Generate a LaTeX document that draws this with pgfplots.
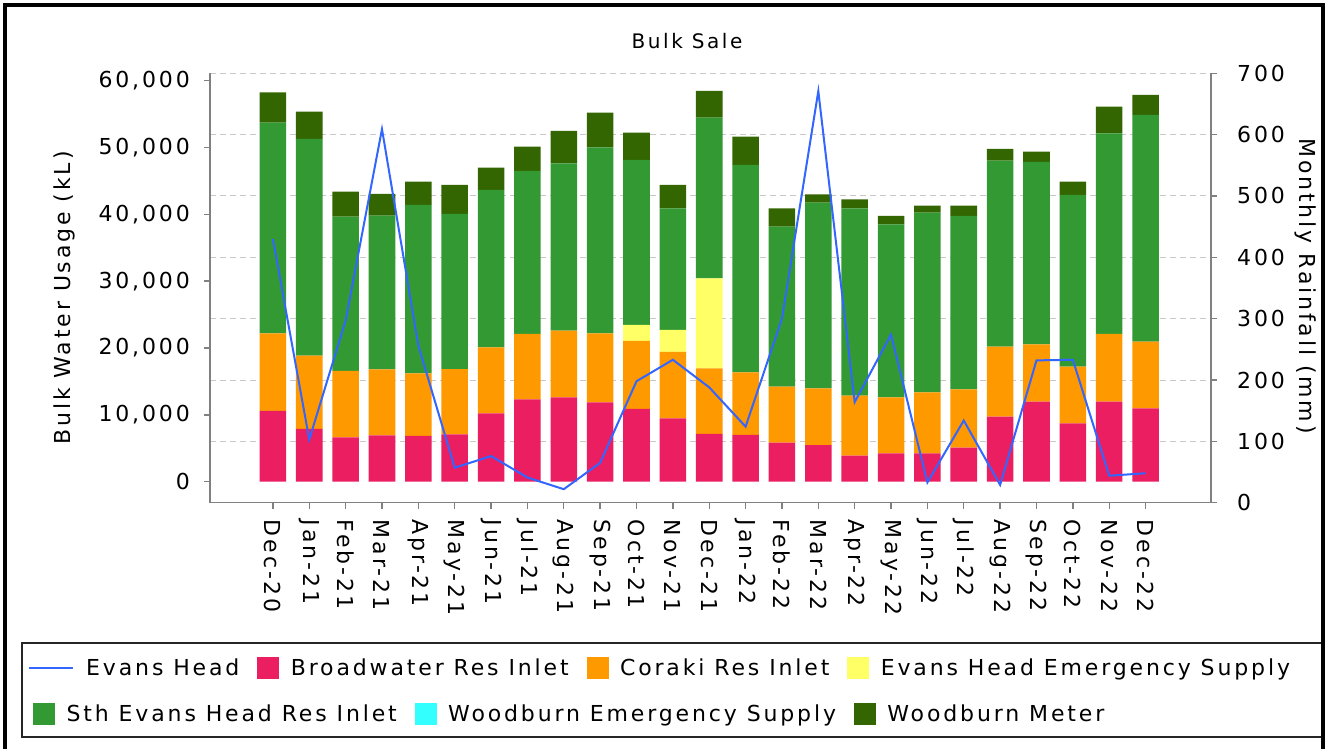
\documentclass[border=0pt]{standalone}
\usepackage{pgfplots}
\pgfplotsset{compat=1.18}
\usepackage{pgfplotstable}
\usepackage{fontspec}
\setmainfont{DejaVu Sans}[LetterSpace=13]
\newcommand\chartfont{\fontsize{22}{26}\selectfont}
\newcommand\titlefont{\fontsize{20}{24}\selectfont}
\definecolor{cpink}{RGB}{234,30,96}
\definecolor{corange}{RGB}{255,153,0}
\definecolor{cyellow}{RGB}{255,255,102}
\definecolor{cgreen}{RGB}{51,153,51}
\definecolor{cdkgreen}{RGB}{51,102,0}
\definecolor{ccyan}{RGB}{51,255,255}
\definecolor{cblue}{RGB}{51,102,255}
\definecolor{caxis}{RGB}{128,128,128}
\definecolor{cgrid}{RGB}{200,200,200}

\pgfplotstableread{
x B C Y S WM R
0 10580 11625 0 31515 4550 430
1 7890 10965 0 32425 4085 103
2 6640 9925 0 23090 3740 297
3 6940 9880 0 22985 3245 609
4 6840 9380 0 25185 3485 256
5 7090 9770 0 23195 4340 57
6 10235 9875 0 23535 3340 76
7 12330 9770 0 24390 3635 41
8 12630 9965 0 25050 4835 22
9 11880 10325 0 27830 5180 65
10 10880 10175 2395 24690 4085 198
11 9490 9920 3290 18210 3485 233
12 7140 9830 13470 24030 4000 188
13 6990 9380 0 31020 4235 124
14 5840 8375 0 23940 2755 300
15 5490 8485 0 27770 1255 671
16 3890 8980 0 28040 1345 164
17 4250 8380 0 25885 1240 274
18 4250 9125 0 26875 1050 33
19 5090 8740 0 25930 1540 134
20 9725 10475 0 27830 1750 29
21 11970 8590 0 27280 1540 232
22 8740 8470 0 25690 1990 233
23 11970 10130 0 30030 3980 44
24 10985 9965 0 33920 2995 48
}\datatable

\pgfplotsset{
  base/.style={
    scale only axis, width=1001pt, height=429.4pt,
    at={(210pt,246.3pt)}, anchor=south west,
    xmin=-1.73, xmax=25.8,
    enlarge x limits=false, enlarge y limits=false,
    /pgf/number format/assume math mode=true,
    tick label style={font=\chartfont},
    label style={font=\chartfont},
    axis line style={caxis, line width=1.6pt, -},
    tick style={caxis, line width=1.4pt},
    tick align=outside, major tick length=6pt,
  },
  legaxis/.style={
    base, hide axis, xmin=0, xmax=1, ymin=0, ymax=1,
    legend columns=-1,
    legend style={draw=none, fill=none, inner sep=0pt, font=\chartfont,
      /tikz/every odd column/.append style={column sep=10pt},
      /tikz/every even column/.append style={column sep=16pt}},
    legend cell align=left,
  },
}

\begin{document}
\begin{tikzpicture}
\useasboundingbox (0,0) rectangle (1330pt,749pt);
\fill[white] (0,0) rectangle (1330pt,749pt);

% grid + right axis
\begin{axis}[base,
  ymin=0, ymax=700, ytick={0,100,...,700},
  axis x line=none, axis y line*=right,
  ymajorgrids, grid style={cgrid, line width=1pt, dash pattern=on 6pt off 4pt},
  yticklabel style={anchor=west, inner sep=0pt, xshift=20pt},
  ylabel={Monthly Rainfall (mm)},
  every axis y label/.style={at={(axis description cs:1.094,0.5047)}, rotate=-90, anchor=center, font=\chartfont},
]
\end{axis}

% stacked bars, left axis
\begin{axis}[base,
  ybar stacked, bar width=0.73,
  ymin=-3142, ymax=61107, ytick={0,10000,...,60000},
  scaled y ticks=false,
  yticklabel style={/pgf/number format/fixed, /pgf/number format/1000 sep={,}, anchor=east, inner sep=0pt, xshift=-14pt},
  axis x line*=bottom, axis y line*=left,
  xtick={0,...,24},
  xticklabels={Dec-20,Jan-21,Feb-21,Mar-21,Apr-21,May-21,Jun-21,Jul-21,Aug-21,Sep-21,Oct-21,Nov-21,Dec-21,Jan-22,Feb-22,Mar-22,Apr-22,May-22,Jun-22,Jul-22,Aug-22,Sep-22,Oct-22,Nov-22,Dec-22},
  xticklabel style={rotate=-90, anchor=west, inner sep=0pt, xshift=11pt},
  ylabel={Bulk Water Usage (kL)},
  every axis y label/.style={at={(axis description cs:-0.145,0.4767)}, rotate=90, anchor=center, font=\chartfont},
  title={Bulk Sale},
  every axis title/.style={at={(axis description cs:0.4765,1.0746)}, anchor=center, font=\titlefont},
]
\addplot[fill=cpink, draw=none] table[x=x, y=B] {\datatable};
\addplot[fill=corange, draw=none] table[x=x, y=C] {\datatable};
\addplot[fill=cyellow, draw=none] table[x=x, y=Y] {\datatable};
\addplot[fill=cgreen, draw=none] table[x=x, y=S] {\datatable};
\addplot[fill=cdkgreen, draw=none] table[x=x, y=WM] {\datatable};
\end{axis}

% rainfall line
\begin{axis}[base, hide axis, ymin=0, ymax=700]
\addplot[cblue, line width=2pt, mark=none] table[x=x, y=R] {\datatable};
\end{axis}

% legend row 1
\begin{axis}[legaxis,
  legend style={at={(axis description cs:-0.1818,-0.385)}, anchor=west}]
\addlegendimage{legend image code/.code={\draw[cblue, line width=2pt] (0pt,0pt) -- (44pt,0pt);}}
\addlegendentry{Evans Head}
\addlegendimage{legend image code/.code={\fill[cpink] (0pt,-10.5pt) rectangle (21pt,10.5pt);}}
\addlegendentry{Broadwater Res Inlet}
\addlegendimage{legend image code/.code={\fill[corange] (0pt,-10.5pt) rectangle (21pt,10.5pt);}}
\addlegendentry{Coraki Res Inlet}
\addlegendimage{legend image code/.code={\fill[cyellow] (0pt,-10.5pt) rectangle (21pt,10.5pt);}}
\addlegendentry{Evans Head Emergency Supply}
\end{axis}

% legend row 2
\begin{axis}[legaxis,
  legend style={at={(axis description cs:-0.1768,-0.4922)}, anchor=west}]
\addlegendimage{legend image code/.code={\fill[cgreen] (0pt,-10.5pt) rectangle (21pt,10.5pt);}}
\addlegendentry{Sth Evans Head Res Inlet}
\addlegendimage{legend image code/.code={\fill[ccyan] (0pt,-10.5pt) rectangle (21pt,10.5pt);}}
\addlegendentry{Woodburn Emergency Supply}
\addlegendimage{legend image code/.code={\fill[cdkgreen] (0pt,-10.5pt) rectangle (21pt,10.5pt);}}
\addlegendentry{Woodburn Meter}
\end{axis}

% legend box and outer frame
\draw[black!85, line width=2pt] (22pt,11.7pt) rectangle (1322pt,105.7pt);
\draw[black, line width=4pt] (4.7pt,-5pt) -- (4.7pt,743.5pt) -- (1323pt,743.5pt) -- (1323pt,-5pt);
\end{tikzpicture}
\end{document}
